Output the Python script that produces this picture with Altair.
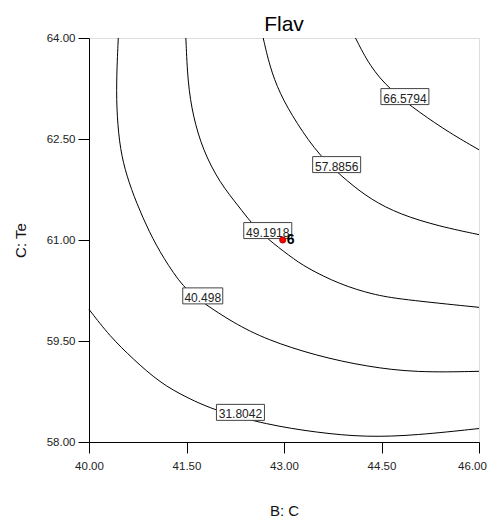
import altair as alt
import pandas as pd

# Contour levels and their traced paths (B: C on x, C: Te on y)
levels = ["31.8042", "40.498", "49.1918", "57.8856", "66.5794"]

c1_x = [40.00, 40.32, 40.68, 41.09, 41.50, 41.96, 42.73, 43.50, 44.27, 45.04, 46.00]
c1_y = [59.97, 59.57, 59.23, 58.88, 58.66, 58.46, 58.26, 58.14, 58.07, 58.10, 58.20]

c2_x = [40.45, 40.42, 40.43, 40.48, 40.58, 40.73, 40.93, 41.14, 41.45, 41.75, 42.22, 42.73, 43.50, 44.27, 45.04, 46.00]
c2_y = [64.00, 63.33, 62.84, 62.34, 61.95, 61.55, 61.11, 60.74, 60.29, 60.07, 59.77, 59.52, 59.28, 59.12, 59.03, 59.05]

c3_x = [41.49, 41.52, 41.60, 41.75, 42.01, 42.32, 42.49, 42.74, 43.09, 43.34, 43.86, 44.37, 44.78, 46.00]
c3_y = [64.00, 63.33, 62.84, 62.34, 61.85, 61.48, 61.26, 61.02, 60.76, 60.59, 60.34, 60.19, 60.12, 60.00]

c4_x = [42.68, 42.78, 42.93, 43.19, 43.55, 44.00, 44.34, 44.78, 45.40, 46.00]
c4_y = [64.00, 63.58, 63.18, 62.74, 62.24, 61.85, 61.60, 61.38, 61.20, 61.08]

c5_x = [44.10, 44.32, 44.63, 45.09, 45.55, 46.00]
c5_y = [64.00, 63.58, 63.23, 62.89, 62.59, 62.34]

# Label positions for each contour
label_x = [42.33, 41.75, 42.75, 43.81, 44.86]
label_y = [58.44, 60.17, 61.14, 62.12, 63.13]

# Design point
pt_x = [42.98]
pt_y = [61.0]
pt_label = ["6"]

x_ticks = [40.0, 41.5, 43.0, 44.5, 46.0]
y_ticks = [58.0, 59.5, 61.0, 62.5, 64.0]

paths = [(c1_x, c1_y), (c2_x, c2_y), (c3_x, c3_y), (c4_x, c4_y), (c5_x, c5_y)]
rows = []
for lev, (xs_, ys_) in zip(levels, paths):
    for i, (xv, yv) in enumerate(zip(xs_, ys_)):
        rows.append({"level": lev, "x": xv, "y": yv, "order": i})
lines_df = pd.DataFrame(rows)

labels_df = pd.DataFrame({"level": levels, "x": label_x, "y": label_y,
                          "n": [len(l) for l in levels]})
pt_df = pd.DataFrame({"x": pt_x, "y": pt_y, "label": pt_label})

FONT = "Liberation Sans"

xs = alt.Scale(domain=[40, 46], nice=False, zero=False)
ys = alt.Scale(domain=[58, 64], nice=False, zero=False)

x_axis = alt.Axis(values=x_ticks, format=".2f", title="B: C", grid=False,
                  domainColor="black", tickColor="black", tickSize=11,
                  labelFlush=False,
                  labelOffset={"condition": {"test": "datum.value == 46", "value": -7}, "value": 0},
                  labelPadding=7, labelFontSize=11.5, labelColor="#222",
                  labelFont=FONT, titleFont=FONT, titleFontSize=15,
                  titleFontWeight="normal", titleColor="#111", titleY=73,
                  titleBaseline="alphabetic")
y_axis = alt.Axis(values=y_ticks, format=".2f", title="C: Te", grid=False,
                  domainColor="black", tickColor="black", tickSize=11,
                  labelPadding=3, labelFontSize=11.5, labelColor="#222",
                  labelFont=FONT, titleFont=FONT, titleFontSize=15,
                  titleFontWeight="normal", titleColor="#111", titleX=-69,
                  titleBaseline="middle")

lines = alt.Chart(lines_df).mark_line(color="black", strokeWidth=1, interpolate="basis").encode(
    x=alt.X("x:Q", scale=xs, axis=x_axis),
    y=alt.Y("y:Q", scale=ys, axis=y_axis),
    detail="level:N",
    order="order:Q",
)

box7 = alt.Chart(labels_df).transform_filter("datum.n >= 7").mark_rect(
    fill="white", stroke="#444", strokeWidth=1,
    xOffset=-24, x2Offset=24, yOffset=8, y2Offset=-8
).encode(x="x:Q", x2="x:Q", y="y:Q", y2="y:Q")

box6 = alt.Chart(labels_df).transform_filter("datum.n < 7").mark_rect(
    fill="white", stroke="#444", strokeWidth=1,
    xOffset=-20, x2Offset=20, yOffset=8, y2Offset=-8
).encode(x="x:Q", x2="x:Q", y="y:Q", y2="y:Q")

texts = alt.Chart(labels_df).mark_text(
    font=FONT, fontSize=12, color="#222", baseline="middle", dy=2
).encode(x="x:Q", y="y:Q", text="level:N")

point = alt.Chart(pt_df).mark_point(
    filled=True, fill="#ff0000", stroke="#7a0000", strokeWidth=0.6, size=40, opacity=1
).encode(x="x:Q", y="y:Q")

pt_text = alt.Chart(pt_df).mark_text(
    font=FONT, fontSize=14, fontWeight="bold", color="black", align="left", dx=4, baseline="middle", dy=0
).encode(x="x:Q", y="y:Q", text="label:N")

chart = alt.layer(lines, box7, box6, texts, point, pt_text).properties(
    width=390, height=404,
    title=alt.TitleParams("Flav", font=FONT, fontSize=21, fontWeight="normal",
                          color="black", offset=5, dy=8, anchor="middle"),
    autosize=alt.AutoSizeParams(type="none"),
    padding={"left": 81, "top": 30, "right": 8, "bottom": 75},
).configure_view(stroke="#808080", strokeWidth=2).configure(background="white")

chart.save("out.html", embed_options={"renderer": "svg", "actions": False})
